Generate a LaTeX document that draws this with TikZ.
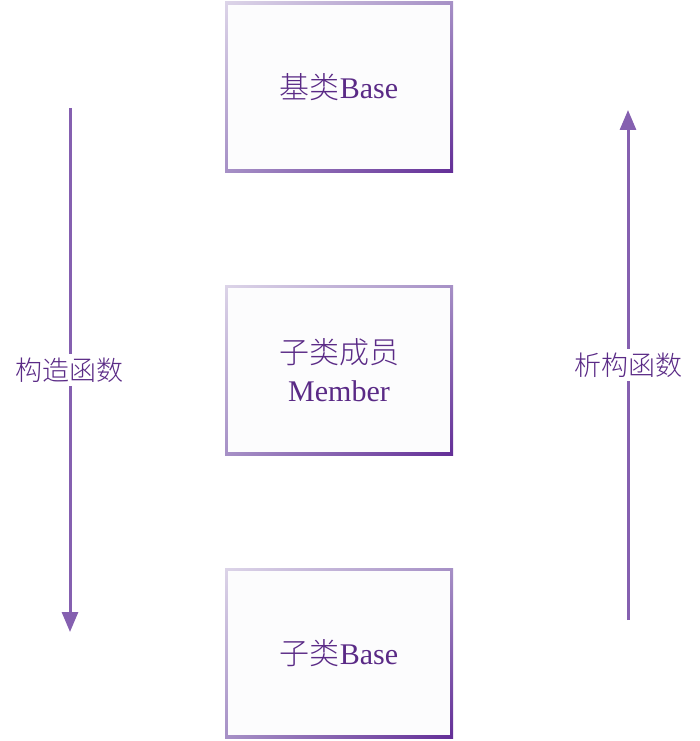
\documentclass[tikz,border=0pt]{standalone}
\usepackage{fontspec}
\setmainfont{Liberation Serif}
\newfontfamily\zhfont{Noto Sans CJK SC Light}
\usetikzlibrary{positioning,arrows.meta,shadings}
\definecolor{boxfill}{HTML}{FCFCFD}
\definecolor{rimlight}{HTML}{DCD4E8}
\definecolor{rimmid}{HTML}{A690C6}
\definecolor{rimdark}{HTML}{632E97}
\definecolor{txtpurple}{HTML}{5A2A86}
\definecolor{arrpurple}{HTML}{8560B0}

\begin{document}
\begin{tikzpicture}[x=1pt,y=1pt,
    classbox/.style={minimum width=228pt, minimum height=170pt, inner sep=0pt, outer sep=0pt,
        shade, upper left=rimlight, upper right=rimmid, lower left=rimmid, lower right=rimdark,
        path picture={\fill[boxfill] ([shift={(3pt,3pt)}]path picture bounding box.south west)
            rectangle ([shift={(-3pt,-3pt)}]path picture bounding box.north east);},
        font=\fontsize{30}{38}\selectfont, text=txtpurple, align=center},
    flow/.style={-{Triangle[width=16pt,length=20pt]}, line width=3pt, draw=arrpurple},
    flowlabel/.style={fill=white, inner sep=4pt, text=txtpurple, font=\zhfont\fontsize{27}{30}\selectfont}
]
    \useasboundingbox (0,0) rectangle (699,-741);

    % class boxes, top to bottom
    \node[classbox] (base) at (339,-87) {{\zhfont 基类}Base};
    \node[classbox, below=113pt of base] (member) {{\zhfont 子类成员}\\Member};
    \node[classbox, below=113pt of member] (derived) {{\zhfont 子类}Base};

    % constructor order
    \coordinate (ctortop) at (70,-108);
    \coordinate (ctorbot) at (70,-632);
    \draw[flow] (ctortop) -- node[flowlabel] (ctorlabel) {构造函数} (ctorbot);

    % destructor order
    \coordinate (dtorbot) at (628,-620);
    \coordinate (dtortop) at (628,-110);
    \draw[flow] (dtorbot) -- node[flowlabel] (dtorlabel) {析构函数} (dtortop);
\end{tikzpicture}
\end{document}
